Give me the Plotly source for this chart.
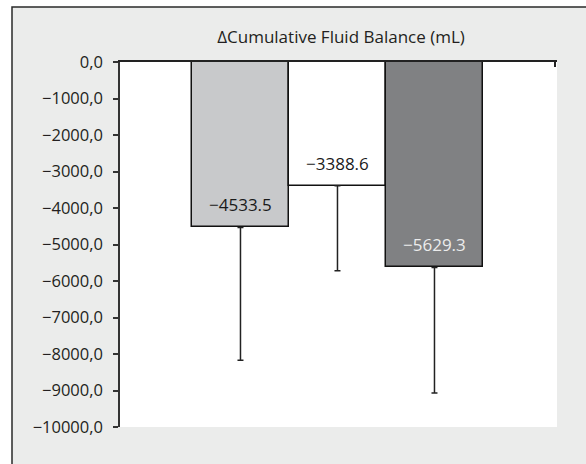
import plotly.graph_objects as go

# ---- data ----
categories = ["Group A", "Group B", "Group C"]
means = [-4533.5, -3388.6, -5629.3]
sd_minus = [3637, 2334, 3439]
bar_colors = ["#c8c9cb", "#ffffff", "#808183"]
label_colors = ["#1a1a1a", "#1a1a1a", "#ececec"]
label_texts = ["\u22124533.5", "\u22123388.6", "\u22125629.3"]
y_tickvals = [0, -1000, -2000, -3000, -4000, -5000, -6000, -7000, -8000, -9000, -10000]
y_ticktext = ["0,0", "\u22121000,0", "\u22122000,0", "\u22123000,0", "\u22124000,0",
              "\u22125000,0", "\u22126000,0", "\u22127000,0", "\u22128000,0",
              "\u22129000,0", "\u221210000,0"]
title = "\u0394Cumulative Fluid Balance (mL)"

W, H = 586, 464
ML, MR, MT, MB = 120, 29, 62, 37
x_idx = list(range(len(categories)))
x_range = [-1.242, 3.263]

FONT = "Open Sans, Noto Sans, sans-serif"
INK = "#231f20"
FS = 17
TFS = 16.5

pw = W - ML - MR
ph = H - MT - MB


def px_x(fx):
    return (fx - ML) / pw


def px_y(fy):
    return (H - MB - fy) / ph


fig = go.Figure()
fig.add_trace(go.Bar(
    x=x_idx, y=means, width=1.0,
    marker=dict(color=bar_colors, line=dict(color="#111111", width=1.5)),
    error_y=dict(type="data", symmetric=False, array=[0] * len(means),
                 arrayminus=sd_minus, color="#222222", thickness=1.5, width=3),
    hovertext=categories, showlegend=False,
))

for i, (v, t, c) in enumerate(zip(means, label_texts, label_colors)):
    fig.add_annotation(x=x_idx[i], y=v, text=t, showarrow=False,
                       yanchor="bottom", yshift=9,
                       font=dict(family=FONT, size=FS, color=c))

# white area outside the frame (left and top)
fig.add_shape(type="rect", xref="paper", yref="paper",
              x0=px_x(-10), x1=px_x(12), y0=px_y(H + 10), y1=px_y(-10),
              line=dict(width=0), fillcolor="#ffffff", layer="below")
fig.add_shape(type="rect", xref="paper", yref="paper",
              x0=px_x(-10), x1=px_x(W + 10), y0=px_y(7), y1=px_y(-10),
              line=dict(width=0), fillcolor="#ffffff", layer="below")
# outer frame
fig.add_shape(type="rect", xref="paper", yref="paper",
              x0=px_x(12), x1=px_x(W + 20), y0=px_y(H + 20), y1=px_y(7),
              line=dict(color="#2a2a2a", width=1.5), fillcolor="rgba(0,0,0,0)",
              layer="above")

fig.update_layout(
    width=W, height=H,
    margin=dict(l=ML, r=MR, t=MT, b=MB, pad=0),
    paper_bgcolor="#ebeceb", plot_bgcolor="#ffffff",
    font=dict(family=FONT, size=FS, color=INK),
    title=dict(text=title, x=px_x(341), xref="paper", xanchor="center",
               y=1 - 37 / H, yanchor="middle",
               font=dict(family=FONT, size=FS, color=INK)),
    bargap=0,
    showlegend=False,
)
fig.update_xaxes(range=x_range, side="top", showline=True, linecolor="#222222",
                 linewidth=1.5, ticks="inside", tickvals=[x_range[1] - 0.02],
                 ticklen=5, tickwidth=1.5, tickcolor="#222222",
                 showticklabels=False, showgrid=False, zeroline=False)
fig.update_yaxes(range=[-10000, 0], tickvals=y_tickvals, ticktext=y_ticktext,
                 showline=True, linecolor="#333333", linewidth=1.5,
                 ticks="outside", ticklen=5, tickwidth=1.5, tickcolor="#333333",
                 ticklabelstandoff=7,
                 showgrid=False, zeroline=False,
                 tickfont=dict(family=FONT, size=TFS, color=INK))

fig.write_html(
    "out.html",
    config={"displayModeBar": False},
    post_script="document.body.style.margin='0';document.body.style.overflow='hidden';",
)
